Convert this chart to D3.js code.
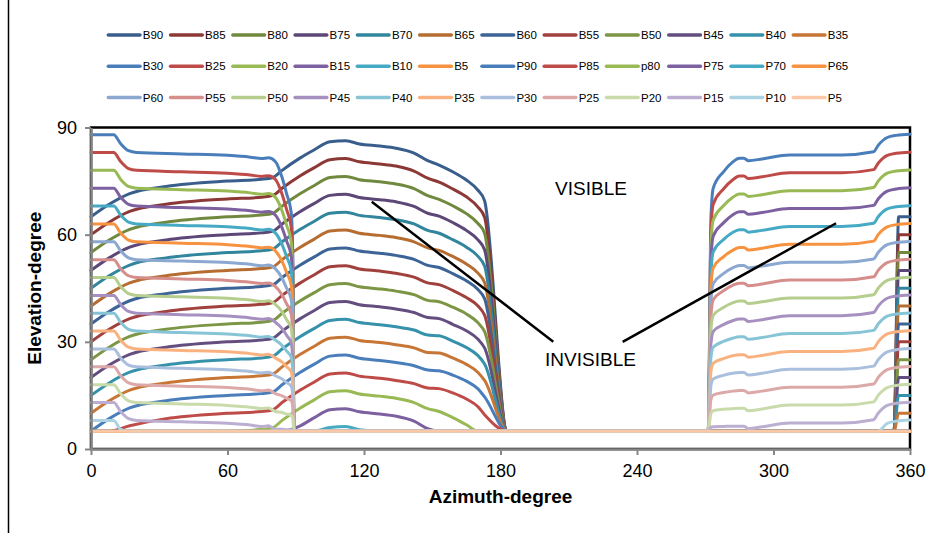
<!DOCTYPE html>
<html lang="en">
<head>
<meta charset="utf-8">
<title>Elevation vs azimuth</title>
<script src="https://cdn.jsdelivr.net/npm/d3@7"></script>
<style>
  body { margin: 0; background: #fff; }
  text { font-family: "Liberation Sans", Arial, sans-serif; }
</style>
</head>
<body>
<script>

var w = 946;
var h = 533;

// azimuth samples shared by the B and P series
var bAz = [0, 8, 17, 33, 60, 75, 80, 84, 92, 98, 105, 112, 118, 127, 134, 142, 148, 153, 159, 165, 170, 173, 183, 185, 353, 355, 360];
var pAz = [0, 10, 13, 16.5, 20, 40, 60, 70, 75, 78, 81, 84, 86, 88, 88.7, 89.2, 271.3, 272.5, 273.5, 278, 282, 285, 287, 289, 295, 307, 330, 344, 346, 350, 354, 360];

var B90 = [65, 68.5, 71.5, 73.5, 75, 75.5, 76, 78, 81.5, 83.7, 86, 86.3, 85.4, 84.8, 84.2, 82.8, 80.7, 79.5, 77.6, 75.3, 72.5, 69.5, 5, 5, 5, 65, 65];
var B85 = [60, 63.5, 66.5, 68.5, 70, 70.5, 71, 73, 76.5, 78.7, 81, 81.3, 80.4, 79.8, 79.2, 77.8, 75.8, 74.7, 72.8, 70.6, 67.8, 64.9, 5, 5, 5, 60, 60];
var B80 = [55, 58.5, 61.5, 63.5, 65, 65.5, 66, 68, 71.5, 73.7, 76, 76.3, 75.4, 74.8, 74.2, 72.9, 70.9, 69.9, 68.1, 65.9, 63.2, 60.4, 5, 5, 5, 55, 55];
var B75 = [50, 53.5, 56.5, 58.5, 60, 60.5, 61, 63, 66.5, 68.7, 71, 71.3, 70.4, 69.8, 69.2, 67.9, 66.0, 65.2, 63.4, 61.2, 58.6, 55.8, 5, 5, 5, 50, 50];
var B70 = [45, 48.5, 51.5, 53.5, 55, 55.5, 56, 58, 61.5, 63.7, 66, 66.3, 65.4, 64.8, 64.2, 63.0, 61.2, 60.4, 58.6, 56.5, 54.0, 51.2, 5, 5, 5, 45, 45];
var B65 = [40, 43.5, 46.5, 48.5, 50, 50.5, 51, 53, 56.5, 58.7, 61, 61.3, 60.4, 59.8, 59.2, 58.0, 56.3, 55.6, 53.9, 51.8, 49.3, 46.6, 5, 5, 5, 40, 40];
var B60 = [35, 38.5, 41.5, 43.5, 45, 45.5, 46, 48, 51.5, 53.7, 56, 56.3, 55.4, 54.8, 54.2, 53.1, 51.4, 50.8, 49.1, 47.1, 44.7, 42.1, 5, 5, 5, 35, 35];
var B55 = [30, 33.5, 36.5, 38.5, 40, 40.5, 41, 43, 46.5, 48.7, 51, 51.3, 50.4, 49.8, 49.2, 48.1, 46.5, 46.0, 44.4, 42.4, 40.1, 37.5, 5, 5, 5, 30, 30];
var B50 = [25, 28.5, 31.5, 33.5, 35, 35.5, 36, 38, 41.5, 43.7, 46, 46.3, 45.4, 44.8, 44.2, 43.2, 41.6, 41.2, 39.7, 37.8, 35.4, 32.9, 5, 5, 5, 25, 25];
var B45 = [20, 23.5, 26.5, 28.5, 30, 30.5, 31, 33, 36.5, 38.7, 41, 41.3, 40.4, 39.8, 39.2, 38.2, 36.8, 36.5, 34.9, 33.1, 30.8, 28.3, 5, 5, 5, 20, 20];
var B40 = [15, 18.5, 21.5, 23.5, 25, 25.5, 26, 28, 31.5, 33.7, 36, 36.3, 35.4, 34.8, 34.2, 33.3, 31.9, 31.7, 30.2, 28.4, 26.2, 23.8, 5, 5, 5, 15, 15];
var B35 = [10, 13.5, 16.5, 18.5, 20, 20.5, 21, 23, 26.5, 28.7, 31, 31.3, 30.4, 29.8, 29.2, 28.3, 27.0, 26.9, 25.5, 23.7, 21.5, 19.2, 5, 5, 5, 10, 10];
var B30 = [5, 8.5, 11.5, 13.5, 15, 15.5, 16, 18, 21.5, 23.7, 26, 26.3, 25.4, 24.8, 24.2, 23.3, 22.1, 21.9, 20.7, 19.0, 16.9, 14.6, 5, 5, 5, 5, 5];
var B25 = [5, 5, 6.5, 8.5, 10, 10.5, 11, 13, 16.5, 18.7, 21, 21.3, 20.4, 19.8, 19.2, 18.3, 17.1, 16.9, 15.7, 14.0, 11.9, 9.6, 5, 5, 5, 5, 5];
var B20 = [5, 5, 5, 5, 5, 5.5, 6, 8, 11.5, 13.7, 16, 16.3, 15.4, 14.8, 14.2, 13.0, 11.3, 10.5, 8.8, 6.8, 5, 5, 5, 5, 5, 5, 5];
var B15 = [5, 5, 5, 5, 5, 5, 5, 5, 6.5, 8.7, 11, 11.3, 10.4, 9.8, 9.2, 7.8, 5.7, 5, 5, 5, 5, 5, 5, 5, 5, 5, 5];
var B10 = [5, 5, 5, 5, 5, 5, 5, 5, 5, 5, 6, 6.3, 5.4, 5, 5, 5, 5, 5, 5, 5, 5, 5, 5, 5, 5, 5, 5];
var B5  = [5, 5, 5, 5, 5, 5, 5, 5, 5, 5, 5, 5, 5, 5, 5, 5, 5, 5, 5, 5, 5, 5, 5, 5, 5, 5, 5];

var P90 = [88, 88, 85.5, 83.5, 83, 82.6, 82.2, 81.7, 81.3, 81.5, 80.5, 76.0, 71.4, 66.2, 54.1, 5, 5, 64.6, 73.0, 77.6, 80.3, 81.4, 81.4, 80.7, 81.2, 82.3, 82.3, 83.2, 85, 87.2, 87.8, 88.1];
var P85 = [83, 83, 80.5, 78.5, 78, 77.6, 77.2, 76.7, 76.3, 76.5, 75.5, 71.3, 67.0, 62.1, 50.8, 5, 5, 60.7, 68.5, 72.8, 75.3, 76.4, 76.4, 75.7, 76.2, 77.3, 77.3, 78.2, 80, 82.2, 82.8, 83.1];
var P80 = [78, 78, 75.5, 73.5, 73, 72.6, 72.2, 71.7, 71.3, 71.5, 70.5, 66.6, 62.6, 58.1, 47.6, 5, 5, 56.8, 64.1, 68.1, 70.4, 71.4, 71.4, 70.7, 71.2, 72.3, 72.3, 73.2, 75, 77.2, 77.8, 78.1];
var P75 = [73, 73, 70.5, 68.5, 68, 67.6, 67.2, 66.7, 66.3, 66.5, 65.5, 61.9, 58.2, 54.0, 44.3, 5, 5, 52.9, 59.6, 63.3, 65.5, 66.4, 66.4, 65.7, 66.2, 67.3, 67.3, 68.2, 70, 72.2, 72.8, 73.1];
var P70 = [68, 68, 65.5, 63.5, 63, 62.6, 62.2, 61.7, 61.3, 61.5, 60.5, 57.2, 53.8, 50.0, 41.1, 5, 5, 49.0, 55.2, 58.6, 60.6, 61.4, 61.4, 60.7, 61.2, 62.3, 62.3, 63.2, 65, 67.2, 67.8, 68.1];
var P65 = [63, 63, 60.5, 58.5, 58, 57.6, 57.2, 56.7, 56.3, 56.5, 55.5, 52.5, 49.4, 45.9, 37.8, 5, 5, 45.1, 50.7, 53.8, 55.6, 56.4, 56.4, 55.7, 56.2, 57.3, 57.3, 58.2, 60, 62.2, 62.8, 63.1];
var P60 = [58, 58, 55.5, 53.5, 53, 52.6, 52.2, 51.7, 51.3, 51.5, 50.5, 47.8, 45.0, 41.9, 34.6, 5, 5, 41.2, 46.3, 49.1, 50.7, 51.4, 51.4, 50.7, 51.2, 52.3, 52.3, 53.2, 55, 57.2, 57.8, 58.1];
var P55 = [53, 53, 50.5, 48.5, 48, 47.6, 47.2, 46.7, 46.3, 46.5, 45.5, 43.1, 40.6, 37.8, 31.3, 5, 5, 37.3, 41.8, 44.3, 45.8, 46.4, 46.4, 45.7, 46.2, 47.3, 47.3, 48.2, 50, 52.2, 52.8, 53.1];
var P50 = [48, 48, 45.5, 43.5, 43, 42.6, 42.2, 41.7, 41.3, 41.5, 40.5, 38.4, 36.2, 33.8, 28.1, 5, 5, 33.4, 37.4, 39.6, 40.9, 41.4, 41.4, 40.7, 41.2, 42.3, 42.3, 43.2, 45, 47.2, 47.8, 48.1];
var P45 = [43, 43, 40.5, 38.5, 38, 37.6, 37.2, 36.7, 36.3, 36.5, 35.5, 33.7, 31.8, 29.7, 24.8, 5, 5, 29.5, 32.9, 34.8, 35.9, 36.4, 36.4, 35.7, 36.2, 37.3, 37.3, 38.2, 40, 42.2, 42.8, 43.1];
var P40 = [38, 38, 35.5, 33.5, 33, 32.6, 32.2, 31.7, 31.3, 31.5, 30.5, 29.0, 27.4, 25.7, 21.6, 5, 5, 25.6, 28.5, 30.1, 31.0, 31.4, 31.4, 30.7, 31.2, 32.3, 32.3, 33.2, 35, 37.2, 37.8, 38.1];
var P35 = [33, 33, 30.5, 28.5, 28, 27.6, 27.2, 26.7, 26.3, 26.5, 25.5, 24.3, 23.0, 21.6, 18.3, 5, 5, 21.7, 24.0, 25.3, 26.1, 26.4, 26.4, 25.7, 26.2, 27.3, 27.3, 28.2, 30, 32.2, 32.8, 33.1];
var P30 = [28, 28, 25.5, 23.5, 23, 22.6, 22.2, 21.7, 21.3, 21.5, 20.5, 19.6, 18.6, 17.6, 15.1, 5, 5, 17.8, 19.6, 20.6, 21.2, 21.4, 21.4, 20.7, 21.2, 22.3, 22.3, 23.2, 25, 27.2, 27.8, 28.1];
var P25 = [23, 23, 20.5, 18.5, 18, 17.6, 17.2, 16.7, 16.3, 16.5, 15.5, 14.9, 14.2, 13.5, 11.8, 5, 5, 13.9, 15.1, 15.8, 16.2, 16.4, 16.4, 15.7, 16.2, 17.3, 17.3, 18.2, 20, 22.2, 22.8, 23.1];
var P20 = [18, 18, 15.5, 13.5, 13, 12.6, 12.2, 11.7, 11.3, 11.5, 10.5, 10.2, 9.8, 9.5, 8.6, 5, 5, 10.0, 10.7, 11.1, 11.3, 11.4, 11.4, 10.7, 11.2, 12.3, 12.3, 13.2, 15, 17.2, 17.8, 18.1];
var P15 = [13, 13, 10.5, 8.5, 8, 7.6, 7.2, 6.7, 6.3, 6.5, 5.5, 5.5, 5.4, 5.4, 5.3, 5, 5, 6.1, 6.2, 6.3, 6.4, 6.4, 6.4, 5.7, 6.2, 7.3, 7.3, 8.2, 10, 12.2, 12.8, 13.1];
var P10 = [8, 8, 5.5, 5, 5, 5, 5, 5, 5, 5, 5, 5, 5, 5, 5, 5, 5, 5, 5, 5, 5, 5, 5, 5, 5, 5, 5, 5, 5, 7.2, 7.8, 8.1];
var P5  = [5, 5, 5, 5, 5, 5, 5, 5, 5, 5, 5, 5, 5, 5, 5, 5, 5, 5, 5, 5, 5, 5, 5, 5, 5, 5, 5, 5, 5, 5, 5, 5];

var names = ['B90','B85','B80','B75','B70','B65','B60','B55','B50','B45','B40','B35',
             'B30','B25','B20','B15','B10','B5','P90','P85','p80','P75','P70','P65',
             'P60','P55','P50','P45','P40','P35','P30','P25','P20','P15','P10','P5'];
var values = [B90,B85,B80,B75,B70,B65,B60,B55,B50,B45,B40,B35,
              B30,B25,B20,B15,B10,B5,P90,P85,P80,P75,P70,P65,
              P60,P55,P50,P45,P40,P35,P30,P25,P20,P15,P10,P5];

var colors = [
  '#3A5E8C','#8C3836','#71893F','#5C4776','#31859C','#B66D31',
  '#3C6496','#A0413E','#7D9646','#644E80','#3691AA','#C87636',
  '#4A7EBB','#BE4B48','#98B954','#7D60A0','#46AAC5','#F69240',
  '#4A7EBB','#BE4B48','#98B954','#7D60A0','#46AAC5','#F69240',
  '#8BA8D0','#D68E8C','#B5CE8E','#A690C0','#87C4D6','#F9B27F',
  '#AABFDD','#DDA9A8','#C9DBAB','#BBAED0','#ABD3E1','#FAC8A6'
];

var xTicks = [0, 60, 120, 180, 240, 300, 360];
var yTicks = [0, 30, 60, 90];

var series = names.map(function(n, i) {
  var az = n.charAt(0) == 'B' ? bAz : pAz;
  return { name: n, color: colors[i], pts: az.map(function(a, j) { return [a, values[i][j]]; }) };
});

var svg = d3.select('body').append('svg')
  .attr('width', w)
  .attr('height', h);

svg.append('rect').attr('width', w).attr('height', h).attr('fill', '#fff');

// outer chart frame (left edge visible in source)
svg.append('line')
  .attr('x1', 8.5).attr('x2', 8.5).attr('y1', 0).attr('y2', h)
  .attr('stroke', '#000').attr('stroke-width', 1.5);

var x = d3.scaleLinear().domain([0, 360]).range([91, 910]);
var y = d3.scaleLinear().domain([0, 90]).range([449, 127.5]);

// plot border
svg.append('rect')
  .attr('x', x(0)).attr('y', y(90))
  .attr('width', x(360) - x(0)).attr('height', y(0) - y(90))
  .attr('fill', 'none').attr('stroke', '#000').attr('stroke-width', 2.5);

var line = d3.line()
  .x(function(d) { return x(d[0]); })
  .y(function(d) { return y(d[1]); })
  .curve(d3.curveMonotoneX);

svg.append('g').selectAll('path')
  .data(series)
  .enter()
  .append('path')
  .attr('d', function(d) { return line(d.pts); })
  .attr('fill', 'none')
  .attr('stroke', function(d) { return d.color; })
  .attr('stroke-width', 3)
  .attr('stroke-linejoin', 'round')
  .attr('stroke-linecap', 'round');

// axes
var gx = svg.append('g')
  .attr('transform', 'translate(0,' + y(0) + ')')
  .call(d3.axisBottom(x).tickValues(xTicks).tickSize(6).tickSizeOuter(0).tickPadding(9));
var gy = svg.append('g')
  .attr('transform', 'translate(' + x(0) + ',0)')
  .call(d3.axisLeft(y).tickValues(yTicks).tickSize(6).tickSizeOuter(0).tickPadding(8));

[gx, gy].forEach(function(g) {
  g.select('.domain').attr('stroke', '#868686').attr('stroke-width', 2.5);
  g.selectAll('.tick line').attr('stroke', '#868686').attr('stroke-width', 2);
  g.selectAll('.tick text')
    .attr('fill', '#000')
    .style('font-size', '18px')
    .style('font-family', '"Liberation Sans", Arial, sans-serif');
});

svg.append('text')
  .attr('x', (x(0) + x(360)) / 2).attr('y', 503)
  .attr('text-anchor', 'middle')
  .style('font-size', '19px').style('font-weight', 'bold')
  .text('Azimuth-degree');

svg.append('text')
  .attr('transform', 'translate(41,' + (y(0) + y(90)) / 2 + ') rotate(-90)')
  .attr('text-anchor', 'middle')
  .style('font-size', '19px').style('font-weight', 'bold')
  .text('Elevation-degree');

// annotations
var notes = [
  { text: 'VISIBLE', az: 204, el: 71.1 },
  { text: 'INVISIBLE', az: 199.6, el: 23.1 }
];
var pointers = [
  [[123.4, 69.2], [203.2, 30.0]],
  [[233.7, 30.0], [327.5, 63.2]]
];
svg.append('g').selectAll('text')
  .data(notes).enter().append('text')
  .attr('x', function(d) { return x(d.az); })
  .attr('y', function(d) { return y(d.el); })
  .style('font-size', '19px')
  .text(function(d) { return d.text; });
svg.append('g').selectAll('line')
  .data(pointers).enter().append('line')
  .attr('x1', function(d) { return x(d[0][0]); })
  .attr('y1', function(d) { return y(d[0][1]); })
  .attr('x2', function(d) { return x(d[1][0]); })
  .attr('y2', function(d) { return y(d[1][1]); })
  .attr('stroke', '#000').attr('stroke-width', 2.5);

// legend: 12 per row
var leg = svg.append('g').selectAll('g')
  .data(series).enter().append('g')
  .attr('transform', function(d, i) {
    return 'translate(' + (108.3 + (i % 12) * 62.27) + ',' + (35 + Math.floor(i / 12) * 31.2) + ')';
  });
leg.append('line')
  .attr('x1', 0).attr('x2', 31.7)
  .attr('stroke', function(d) { return d.color; })
  .attr('stroke-width', 3.5)
  .attr('stroke-linecap', 'round');
leg.append('text')
  .attr('x', 34.5).attr('dy', '0.36em')
  .style('font-size', '11.5px')
  .text(function(d) { return d.name; });

</script>
</body>
</html>
